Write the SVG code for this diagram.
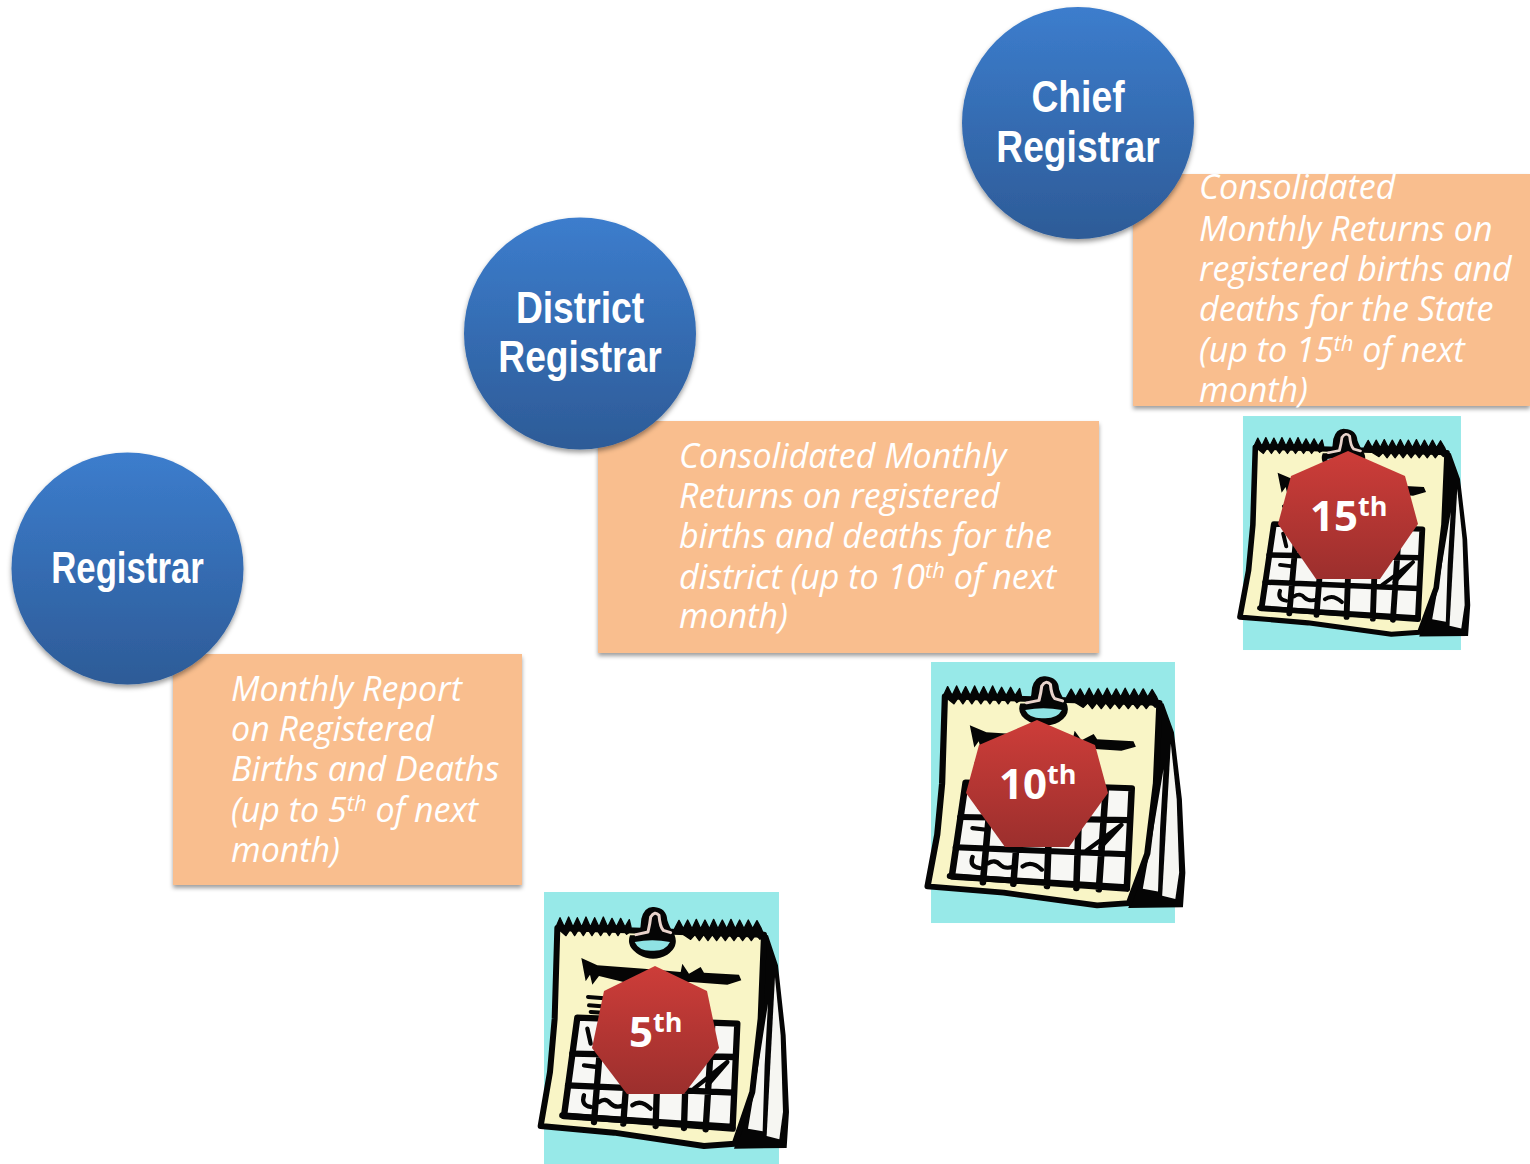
<svg xmlns="http://www.w3.org/2000/svg" width="1530" height="1164" viewBox="0 0 1530 1164">
<style>
.head{font-family:"Liberation Sans",Arial,sans-serif;font-weight:700;font-size:44px;fill:#fff;text-anchor:middle}
.note{font-family:"Open Sans","Noto Sans",sans-serif;font-style:italic;font-size:34px;fill:#fff}
.note .s{font-size:22px}
.day{font-family:"Open Sans","Noto Sans",sans-serif;font-weight:700;font-size:42px;fill:#fff}
.day .s{font-size:27px}
.box{fill:#f9be8e;filter:url(#sh)}
.ball{fill:url(#blue);filter:url(#sh2)}
.hep{fill:url(#red)}
.k{fill:none;stroke:#050505;stroke-linejoin:round;stroke-linecap:round}
</style>
<defs>
<linearGradient id="blue" x1="0" y1="0" x2="0" y2="1"><stop offset="0" stop-color="#3c7dcd"/><stop offset="1" stop-color="#2d5b97"/></linearGradient>
<linearGradient id="red" x1="0" y1="0" x2="0" y2="1"><stop offset="0" stop-color="#cd3d39"/><stop offset="1" stop-color="#9c2f2d"/></linearGradient>
<filter id="sh" x="-5%" y="-5%" width="110%" height="112%"><feDropShadow dx="0" dy="3" stdDeviation="2" flood-color="#000" flood-opacity=".38"/></filter>
<filter id="sh2" x="-10%" y="-10%" width="120%" height="120%"><feDropShadow dx="0" dy="3" stdDeviation="2.5" flood-color="#000" flood-opacity=".4"/></filter>
<g id="cal">
<rect x="40" y="20" width="705" height="817" fill="#97e9e8"/>
<path fill="#050505" d="M695,145 L712,150 L742,240 L765,450 L775,680 L768,788 L610,790 L640,700 L680,480Z"/>
<path fill="#f6f6f2" d="M712,355 L702,540 L696,738 L652,730 L680,560Z"/>
<path fill="#f6f6f2" d="M733,275 L750,450 L757,680 L746,762 L708,752 L720,520Z"/>
<path d="M80,128 L700,148 L690,400 L665,620 L612,775 L520,782 L250,742 L30,722 L58,560 L72,400Z" fill="#f9f5c6" stroke="#050505" stroke-width="18" stroke-linejoin="round"/>
<path fill="#050505" stroke="#050505" stroke-width="4" stroke-linejoin="round" d="M76,125 l12,-28 l13,28 l13,-30 l13,30 l13,-28 l13,28 l13,-30 l13,30 l13,-28 l13,28 l13,-30 l13,30 l13,-26 l13,26 l13,-26 l13,26 l13,-22 l5,22 v12 l-13,10 l-13,-16 l-13,20 l-13,-20 l-13,20 l-13,-20 l-13,20 l-13,-20 l-13,20 l-13,-20 l-13,20 l-13,-20 l-13,20 l-13,-20 l-13,20Z"/>
<path fill="#050505" stroke="#050505" stroke-width="4" stroke-linejoin="round" d="M432,130 l13,-25 l13,25 l13,-26 l13,26 l13,-28 l13,28 l13,-26 l13,26 l13,-28 l13,28 l13,-26 l13,26 l13,-28 l13,28 l13,-26 l13,26 l13,-26 l13,26 l13,-24 l13,24 l8,20 l-12,12 l-13,-14 l-13,18 l-13,-18 l-13,18 l-13,-18 l-13,18 l-13,-18 l-13,18 l-13,-18 l-13,18 l-13,-18 l-13,18 l-13,-18 l-13,18 l-13,-18 l-13,14Z"/>
<path fill="#050505" d="M322,150 Q332,125 332,100 Q342,62 370,65 Q408,68 410,105 Q416,125 432,150 Q445,185 410,208 Q367,232 325,208 Q285,185 298,150Z"/>
<path d="M312,170 Q365,160 418,170 Q405,198 365,196 Q325,198 312,170Z" fill="#8fe3e4"/>
<path class="k" style="stroke:#e9d3cb" stroke-width="9" d="M316,148 L352,140 Q358,115 360,95 Q372,75 385,90 Q388,125 398,135 L420,142"/>
<path fill="#050505" d="M152,218 L200,240 L340,250 L450,260 L455,235 L475,265 L510,245 L520,262 L625,268 L632,285 L590,298 L480,290 L300,295 L205,272 L185,298 L178,268 L165,288Z"/>
<path class="k" stroke-width="12" d="M172,335 L240,340 M175,360 L240,365 M180,380 L240,384"/>
<path d="M140,397 L620,415 L606,725 L100,692Z" fill="#f7f7f4" stroke="#050505" stroke-width="19" stroke-linejoin="round"/>
<path class="k" stroke-width="19" d="M125,505 L612,515 M112,600 L608,622 M95,690 L606,730 M215,405 L190,710 M300,410 L278,715 M385,415 L375,722 M470,415 L460,728 M545,415 L525,732"/>
<path class="k" stroke-width="13" d="M160,630 Q150,660 180,665 M205,650 Q225,635 240,655 Q255,670 280,660 M305,660 Q330,640 360,670 M490,610 L590,530 M530,600 L590,530 M160,540 L200,545 M170,430 L180,475"/>
</g>
</defs>
<g id="cal-5th"><use href="#cal" transform="translate(530.67,885.33) scale(.3333)"/></g>
<g id="cal-10th"><use href="#cal" transform="translate(917.2,655.6) scale(.346,.3195)"/></g>
<g id="cal-15th"><use href="#cal" transform="translate(1230.6,410.3) scale(.3092,.2864)"/></g>
<g id="note-registrar"><rect class="box" x="173" y="654" width="349" height="231"/>
<text class="note" x="231" y="700.5">Monthly Report</text><text class="note" x="231" y="740.5">on Registered</text><text class="note" x="231" y="780.5">Births and Deaths</text><text class="note" x="231" y="821.5">(up to 5<tspan class="s" dy="-11">th</tspan><tspan dy="11"> of next</tspan></text><text class="note" x="231" y="861.5">month)</text></g>
<g id="note-district"><rect class="box" x="598" y="421" width="501" height="232"/>
<text class="note" x="679" y="467.5">Consolidated Monthly</text><text class="note" x="679" y="507.5">Returns on registered</text><text class="note" x="679" y="547.5">births and deaths for the</text><text class="note" x="679" y="588.5">district (up to 10<tspan class="s" dy="-11">th</tspan><tspan dy="11"> of next</tspan></text><text class="note" x="679" y="627.5">month)</text></g>
<g id="note-chief"><rect class="box" x="1133" y="174" width="397" height="232"/>
<text class="note" x="1199" y="198.5">Consolidated</text><text class="note" x="1199" y="240.5">Monthly Returns on</text><text class="note" x="1199" y="280.5">registered births and</text><text class="note" x="1199" y="320.5">deaths for the State</text><text class="note" x="1199" y="361.5">(up to 15<tspan class="s" dy="-11">th</tspan><tspan dy="11"> of next</tspan></text><text class="note" x="1199" y="401.5">month)</text></g>
<g id="registrar"><circle class="ball" cx="127.5" cy="568.5" r="116"/><text class="head" transform="translate(127.5,583) scale(.79,1)">Registrar</text></g>
<g id="district-registrar"><circle class="ball" cx="580" cy="333.5" r="116"/><text class="head" transform="translate(580,323) scale(.846,1)">District</text><text class="head" transform="translate(580,372) scale(.846,1)">Registrar</text></g>
<g id="chief-registrar"><circle class="ball" cx="1078" cy="123" r="116"/><text class="head" transform="translate(1078,112) scale(.846,1)">Chief</text><text class="head" transform="translate(1078,162) scale(.846,1)">Registrar</text></g>
<g id="day-5th"><polygon class="hep" points="655,966 707,991 719,1048 684,1094 627,1094 592,1048 604,991"/><text class="day" x="629" y="1047">5<tspan class="s" dy="-15">th</tspan></text></g>
<g id="day-10th"><polygon class="hep" points="1037,720 1095,745 1108,793 1069,847 1005,847 966,793 979,745"/><text class="day" x="999" y="799">10<tspan class="s" dy="-15">th</tspan></text></g>
<g id="day-15th"><polygon class="hep" points="1348,451 1405,476 1418,524 1380,579 1316,579 1278,524 1291,476"/><text class="day" x="1310" y="531">15<tspan class="s" dy="-15">th</tspan></text></g>
</svg>
